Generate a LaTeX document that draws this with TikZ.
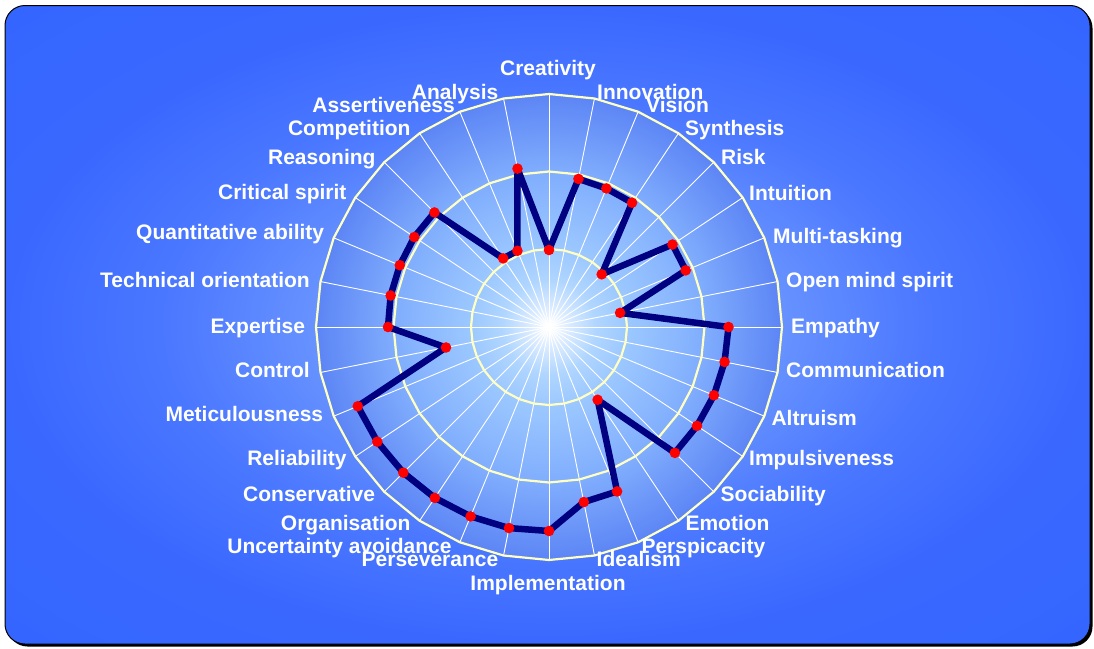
\documentclass[tikz,border=0pt]{standalone}
\usepackage{fontspec}
\setmainfont{Liberation Sans}
\definecolor{bgA}{HTML}{8DB8FF}
\definecolor{bgB}{HTML}{6A95FF}
\definecolor{bgC}{HTML}{4B78FF}
\definecolor{bgD}{HTML}{3A68FF}
\definecolor{bgE}{HTML}{3366FF}
\definecolor{plA}{HTML}{FFFFFF}
\definecolor{plB}{HTML}{DCECFF}
\definecolor{plC}{HTML}{B0D6FF}
\definecolor{plD}{HTML}{9CC8FF}
\definecolor{plE}{HTML}{80ADFD}
\definecolor{plF}{HTML}{5C85F5}
\definecolor{ringcol}{HTML}{FFFFC4}
\definecolor{linecol}{HTML}{000080}
\definecolor{dotcol}{HTML}{FF0000}
\pgfdeclareradialshading{bgglow}{\pgfpoint{0bp}{0bp}}{color(0bp)=(bgA); color(10bp)=(bgB); color(17.5bp)=(bgC); color(25bp)=(bgD); color(36bp)=(bgE); color(50bp)=(bgE)}
\pgfdeclareradialshading{plotglow}{\pgfpoint{0bp}{0bp}}{color(0bp)=(plA); color(2bp)=(plB); color(5bp)=(plC); color(8.4bp)=(plD); color(16.7bp)=(plE); color(25bp)=(plF); color(50bp)=(plF)}
\begin{document}
\begin{tikzpicture}[x=1pt,y=-1pt,
  ring/.style={draw=ringcol, line width=2.2pt},
  spoke/.style={draw=white, line width=0.9pt},
  dataline/.style={draw=linecol, line width=6.5pt, line join=round},
  dot/.style={circle, fill=dotcol, inner sep=0pt, minimum size=10.6pt},
  lab/.style={text=white, font=\fontsize{21}{24}\selectfont\bfseries, inner sep=0pt},
  labR/.style={lab, anchor=base west},
  labL/.style={lab, anchor=base east},
  labC/.style={lab, anchor=base}]
\useasboundingbox (0,0) rectangle (1094,648);
% frame
\fill[black, rounded corners=20pt] (7.5,8) rectangle (1092.5,646.5);
\shade[shading=bgglow, rounded corners=20pt] (5,5.5) rectangle (1090,644);
\draw[black, line width=1pt, rounded corners=20pt] (5,5.5) rectangle (1090,644);
\begin{scope}[shift={(549,327)}]
  % plot area
  \shade[shading=plotglow] (-90:233) \foreach \i in {1,...,31}{ -- ({\i*11.25-90}:233)} -- cycle;
  % spokes
  \foreach \i in {0,...,31} \draw[spoke] (0,0) -- ({\i*11.25-90}:233);
  % rings
  \foreach \r in {78,155.5,233}
    \draw[ring] (-90:\r) \foreach \i in {1,...,31}{ -- ({\i*11.25-90}:\r)} -- cycle;
  % data
  \foreach \i/\r in {0/77,1/151,2/150,3/149.5,4/74.5,5/148.5,6/148,7/72.5,
                     8/179.5,9/179,10/178.5,11/178,12/178,13/87.5,14/178,15/178.5,
                     16/204,17/205,18/205,19/205.5,20/206,21/206.5,22/207,23/105,
                     24/161,25/161.5,26/161.5,27/162,28/162,29/82.5,30/82.5,31/161.5}
    \coordinate (p\i) at ({\i*11.25-90}:\r);
  \draw[dataline] (p0) \foreach \i in {1,...,31}{ -- (p\i)} -- cycle;
  \foreach \i in {0,...,31} \node[dot] (d\i) at (p\i) {};
\end{scope}
% labels
\node[labC] (l0) at (548,75) {Creativity};
\node[labR] (l1) at (597,99) {Innovation};
\node[labR] (l2) at (646,112) {Vision};
\node[labR] (l3) at (685,135) {Synthesis};
\node[labR] (l4) at (721,164) {Risk};
\node[labR] (l5) at (749,200) {Intuition};
\node[labR] (l6) at (773,243.5) {Multi-tasking};
\node[labR] (l7) at (786,287.5) {Open mind spirit};
\node[labR] (l8) at (791,333) {Empathy};
\node[labR] (l9) at (786,377.3) {Communication};
\node[labR] (l10) at (771.3,425) {Altruism};
\node[labR] (l11) at (749,465.7) {Impulsiveness};
\node[labR] (l12) at (720.5,501.7) {Sociability};
\node[labR] (l13) at (685.3,530.7) {Emotion};
\node[labR] (l14) at (641.3,553.5) {Perspicacity};
\node[labR] (l15) at (596.5,566.7) {Idealism};
\node[labC] (l16) at (548,590) {Implementation};
\node[labL] (l17) at (498.5,566.7) {Perseverance};
\node[labL] (l18) at (451.7,553) {Uncertainty avoidance};
\node[labL] (l19) at (410.7,530.7) {Organisation};
\node[labL] (l20) at (375.3,501.7) {Conservative};
\node[labL] (l21) at (346.7,465.7) {Reliability};
\node[labL] (l22) at (323.3,421.7) {Meticulousness};
\node[labL] (l23) at (310,377.3) {Control};
\node[labL] (l24) at (305.3,333) {Expertise};
\node[labL] (l25) at (310,287.5) {Technical orientation};
\node[labL] (l26) at (324.3,239.5) {Quantitative ability};
\node[labL] (l27) at (346.7,199.5) {Critical spirit};
\node[labL] (l28) at (375.7,164) {Reasoning};
\node[labL] (l29) at (410.7,135) {Competition};
\node[labL] (l30) at (455,112) {Assertiveness};
\node[labL] (l31) at (498.5,99) {Analysis};
\end{tikzpicture}
\end{document}
